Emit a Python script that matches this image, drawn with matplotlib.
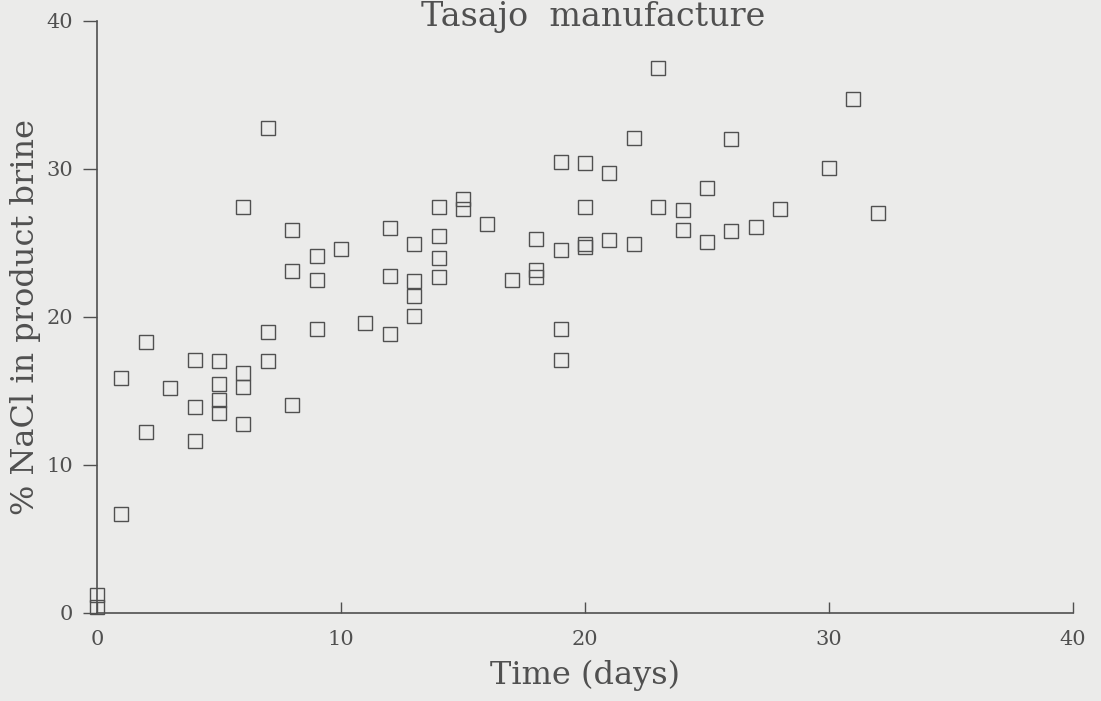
import matplotlib
matplotlib.use("Agg")
import matplotlib.pyplot as plt

# Data (time in days, % NaCl in product brine)
days = [0, 0,
        1, 1,
        2, 2,
        3,
        4, 4, 4,
        5, 5, 5, 5,
        6, 6, 6, 6,
        7, 7, 7,
        8, 8, 8,
        9, 9, 9,
        10,
        11,
        12, 12, 12,
        13, 13, 13, 13,
        14, 14, 14, 14,
        15, 15,
        16,
        17,
        18, 18, 18,
        19, 19, 19, 19,
        20, 20, 20, 20,
        21, 21,
        22, 22,
        23, 23,
        24, 24,
        25, 25,
        26, 26,
        27,
        28,
        30,
        31,
        32]
nacl = [1.2, 0.4,
        15.9, 6.7,
        18.3, 12.25,
        15.2,
        17.1, 13.9, 11.6,
        17.0, 15.5, 14.4, 13.5,
        27.4, 16.2, 15.3, 12.8,
        32.8, 19.0, 17.0,
        25.9, 23.1, 14.05,
        24.1, 22.5, 19.2,
        24.6,
        19.6,
        26.0, 22.8, 18.85,
        24.9, 22.4, 21.4, 20.1,
        27.4, 25.5, 24.0, 22.7,
        28.0, 27.3,
        26.3,
        22.5,
        25.3, 23.2, 22.7,
        30.5, 24.5, 19.2, 17.1,
        30.4, 27.4, 24.9, 24.7,
        29.7, 25.2,
        32.1, 24.9,
        36.8, 27.4,
        27.2, 25.9,
        28.7, 25.1,
        32.0, 25.8,
        26.1,
        27.3,
        30.1,
        34.7,
        27.0]

x_ticks = [0, 10, 20, 30, 40]
y_ticks = [0, 10, 20, 30, 40]
title = "Tasajo  manufacture"
xlabel = "Time (days)"
ylabel = "% NaCl in product brine"

bg = "#ebebea"
ink = "#505050"
font = ["DejaVu Serif"]

fig = plt.figure(figsize=(11.01, 7.01), dpi=100, facecolor=bg)
ax = fig.add_axes([97 / 1101, 1 - 613 / 701, (1073 - 97) / 1101, (613 - 21) / 701])
ax.set_facecolor(bg)

ax.plot(days, nacl, linestyle="none", marker="s", markersize=10,
        markerfacecolor="none", markeredgecolor=ink, markeredgewidth=1.0,
        clip_on=False)

ax.set_xlim(0, 40)
ax.set_ylim(0, 40)
for s in ("top", "right"):
    ax.spines[s].set_visible(False)
for s in ("left", "bottom"):
    ax.spines[s].set_color(ink)
    ax.spines[s].set_linewidth(1.2)

ax.set_xticks(x_ticks)
ax.set_yticks(y_ticks)
ax.tick_params(axis="x", direction="in", length=8, width=1, color=ink,
               labelcolor=ink, labelsize=15, pad=12)
ax.tick_params(axis="y", direction="out", length=10, width=1, color=ink,
               labelcolor=ink, labelsize=15, pad=7)
for lab in ax.get_xticklabels() + ax.get_yticklabels():
    lab.set_family(font)

ax.set_xlabel(xlabel, family=font, fontsize=23, color=ink, labelpad=8)
ax.set_ylabel(ylabel, family=font, fontsize=23, color=ink, labelpad=4)

fig.text(593 / 1101, 0.999, title, family=font, fontsize=24,
         color=ink, ha="center", va="top")

fig.savefig("out.png", dpi=100, facecolor=bg)
